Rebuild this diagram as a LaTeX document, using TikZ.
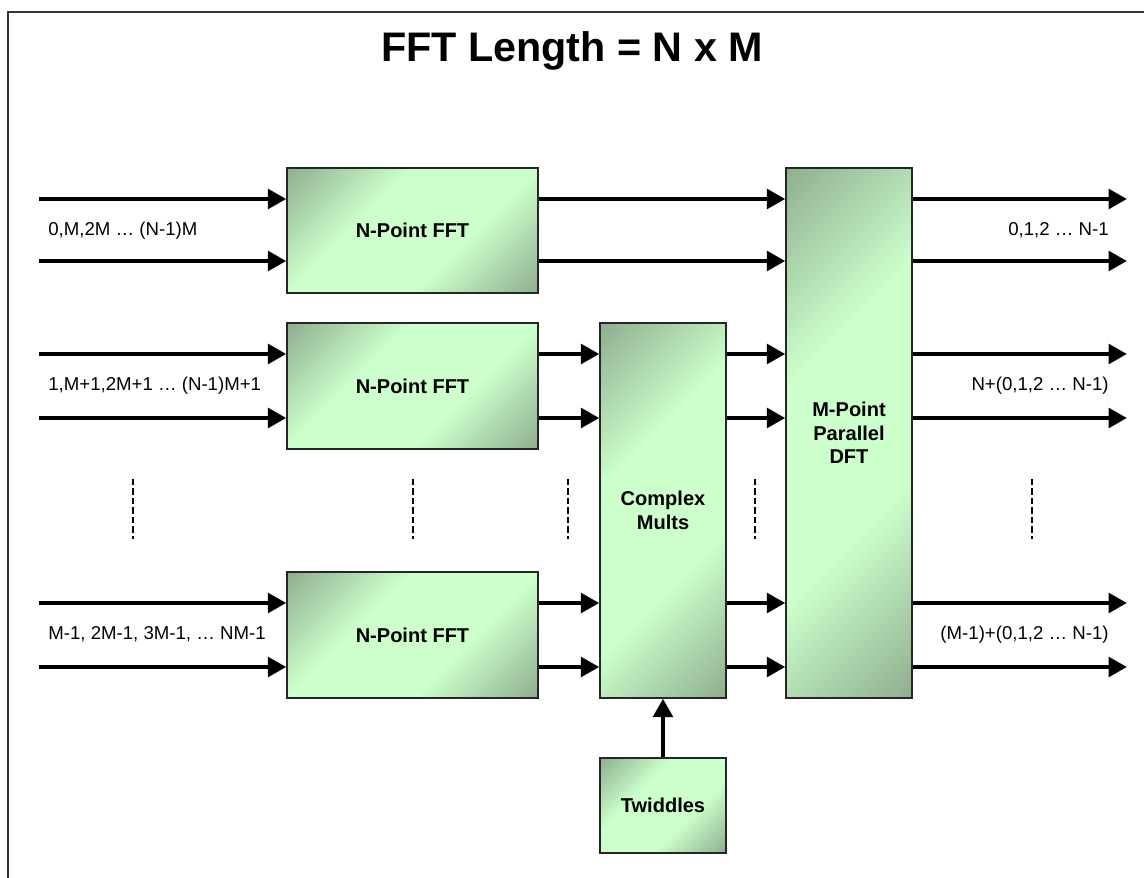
\documentclass[tikz,border=0pt]{standalone}
\usepackage{fontspec}
\setmainfont{Liberation Sans}
\usepackage{xcolor}
\usepackage{tikz}
\usetikzlibrary{arrows.meta}

\definecolor{boxlight}{RGB}{204,255,204}
\definecolor{boxdark}{RGB}{142,172,142}
\pgfdeclarehorizontalshading{fftshade}{100bp}{color(0bp)=(boxdark); color(14bp)=(boxdark); color(38bp)=(boxlight); color(62bp)=(boxlight); color(86bp)=(boxdark); color(100bp)=(boxdark)}

\begin{document}
\begin{tikzpicture}[x=0.02cm,y=-0.02cm,
  fftbox/.style={draw=black!85,line width=0.8pt,shading=fftshade,shading angle=-45,
    inner sep=0pt,align=center,font=\bfseries\fontsize{11.4}{13.5}\selectfont},
  sig/.style={line width=2.8pt,-{Triangle[length=10.5pt,width=11pt]}},
  lbl/.style={font=\fontsize{10.6}{12}\selectfont,inner sep=0pt}]
\useasboundingbox (0,0) rectangle (1144,878);
% frame and title
\draw[line width=1.2pt,black!80] (8,890) -- (8,12) -- (1160,12);
\node[anchor=base,font=\bfseries\fontsize{23.5}{28}\selectfont] (title) at (572,62) {FFT Length = N x M};

% blocks
\node[fftbox,minimum width=5.02cm,minimum height=2.5cm] (fft1) at (412.5,230.5) {N-Point FFT};
\node[fftbox,minimum width=5.02cm,minimum height=2.52cm] (fft2) at (412.5,386) {N-Point FFT};
\node[fftbox,minimum width=5.02cm,minimum height=2.52cm] (fft3) at (412.5,635) {N-Point FFT};
\node[fftbox,minimum width=2.52cm,minimum height=7.5cm] (cm) at (663,510.5) {Complex\\Mults};
\node[fftbox,minimum width=2.52cm,minimum height=1.9cm] (twid) at (663,805.5) {Twiddles};
\node[fftbox,minimum width=2.52cm,minimum height=10.6cm] (dft) at (849,433) {M-Point\\Parallel\\DFT};

% inputs and outputs
\foreach \i/\ya/\yb in {1/199/261,2/354/418,3/603/667}{
  \coordinate (in\i a) at (39,\ya);
  \coordinate (in\i b) at (39,\yb);
  \coordinate (out\i a) at (1127,\ya);
  \coordinate (out\i b) at (1127,\yb);
  \draw[sig] (in\i a) -- (in\i a -| fft\i.west);
  \draw[sig] (in\i b) -- (in\i b -| fft\i.west);
  \draw[sig] (dft.east |- out\i a) -- (out\i a);
  \draw[sig] (dft.east |- out\i b) -- (out\i b);
}
\draw[sig] (fft1.east |- in1a) -- (in1a -| dft.west);
\draw[sig] (fft1.east |- in1b) -- (in1b -| dft.west);
\foreach \i in {2,3}{
  \draw[sig] (fft\i.east |- in\i a) -- (in\i a -| cm.west);
  \draw[sig] (fft\i.east |- in\i b) -- (in\i b -| cm.west);
  \draw[sig] (cm.east |- in\i a) -- (in\i a -| dft.west);
  \draw[sig] (cm.east |- in\i b) -- (in\i b -| dft.west);
}
\draw[sig] (twid.north) -- (cm.south);

% index labels
\node[lbl,anchor=base west] (lin1) at (48,236) {0,M,2M … (N-1)M};
\node[lbl,anchor=base west] (lin2) at (48,391) {1,M+1,2M+1 … (N-1)M+1};
\node[lbl,anchor=base west] (lin3) at (48,640) {M-1, 2M-1, 3M-1, … NM-1};
\node[lbl,anchor=base east] (lout1) at (1109,236) {0,1,2 … N-1};
\node[lbl,anchor=base east] (lout2) at (1109,391) {N+(0,1,2 … N-1)};
\node[lbl,anchor=base east] (lout3) at (1109,640) {(M-1)+(0,1,2 … N-1)};

% dots between rows
\foreach \x in {133,413,568,755,1032}
  \draw[line width=0.6pt,dash pattern=on 3.6pt off 1.8pt] (\x,479) -- (\x,539);
\end{tikzpicture}
\end{document}
